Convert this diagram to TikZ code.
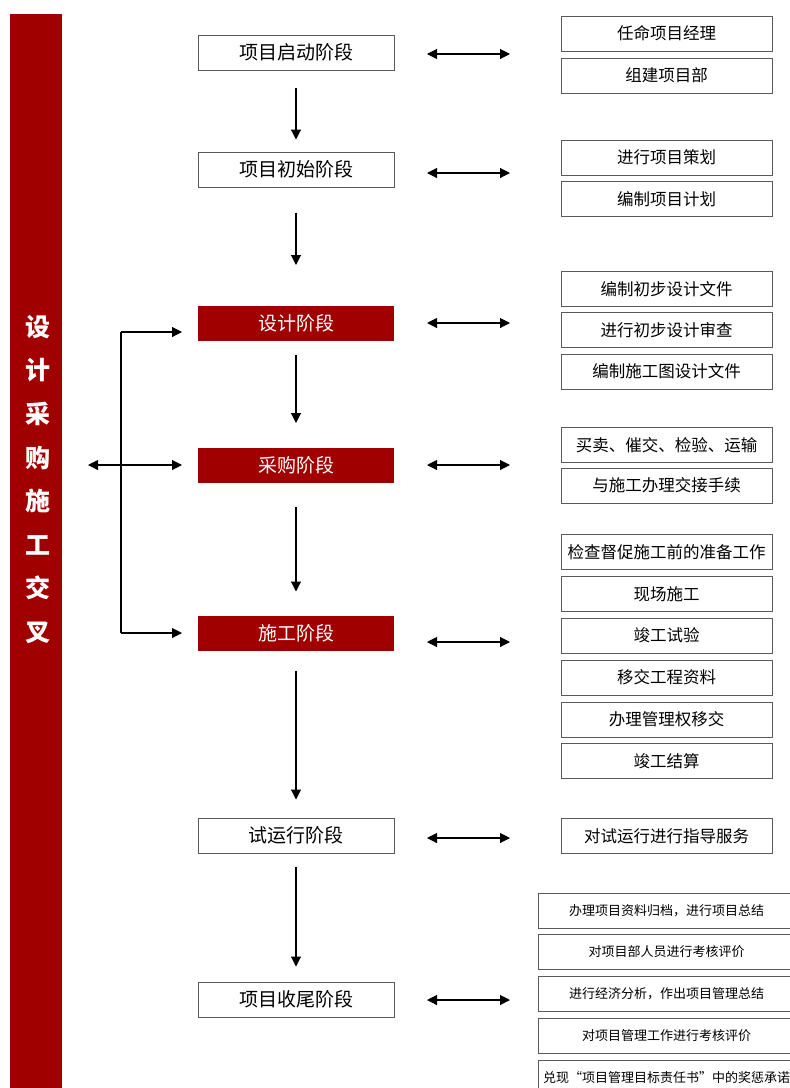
\documentclass[tikz,border=0pt]{standalone}
\usepackage{fontspec}
\setmainfont{Noto Sans CJK SC}
\usetikzlibrary{arrows.meta}
\definecolor{barred}{HTML}{A10000}
\definecolor{boxline}{HTML}{5A5A5A}
\tikzset{
  stagebox/.style={draw=boxline, line width=1pt, fill=white, minimum width=196pt, minimum height=35pt, inner sep=0pt, font=\fontsize{19}{22}\selectfont},
  redstage/.style={stagebox, draw=none, fill=barred, text=white},
  taskbox/.style={draw=boxline, line width=1pt, minimum width=211pt, minimum height=35pt, inner sep=0pt, font=\fontsize{16.5}{19}\selectfont},
  smallbox/.style={draw=boxline, line width=1pt, minimum width=257pt, minimum height=35pt, inner sep=0pt, font=\fontsize{13}{15}\selectfont},
  flow/.style={draw=black, line width=1.1pt, -{Triangle[length=10pt,width=10pt]}},
  both/.style={draw=black, line width=1.1pt, {Triangle[length=10pt,width=10pt]}-{Triangle[length=10pt,width=10pt]}},
}
\begin{document}
\begin{tikzpicture}[x=1pt,y=-1pt]
\useasboundingbox (0,0) rectangle (790,1088);
% left bar
\fill[barred] (10,14) rectangle (62,1088);
\node[text=white, font=\fontsize{25}{43.6}\selectfont\bfseries, align=center, inner sep=0pt] (bartext) at (38,479.5)
  {设\\计\\采\\购\\施\\工\\交\\叉};

% stages
\node[stagebox] (s1) at (296,52.5) {项目启动阶段};
\node[stagebox] (s2) at (296,169.5) {项目初始阶段};
\node[redstage] (s3) at (296,323) {设计阶段};
\node[redstage] (s4) at (296,465) {采购阶段};
\node[redstage] (s5) at (296,633.5) {施工阶段};
\node[stagebox] (s6) at (296,835.5) {试运行阶段};
\node[stagebox] (s7) at (296,999.5) {项目收尾阶段};

% tasks
\node[taskbox] (r1) at (666.5,33.5) {任命项目经理};
\node[taskbox] (r2) at (666.5,75.5) {组建项目部};
\node[taskbox] (r3) at (666.5,157.5) {进行项目策划};
\node[taskbox] (r4) at (666.5,199) {编制项目计划};
\node[taskbox] (r5) at (666.5,289) {编制初步设计文件};
\node[taskbox] (r6) at (666.5,330) {进行初步设计审查};
\node[taskbox] (r7) at (666.5,371.5) {编制施工图设计文件};
\node[taskbox] (r8) at (666.5,445) {买卖、催交、检验、运输};
\node[taskbox] (r9) at (666.5,485.5) {与施工办理交接手续};
\node[taskbox] (r10) at (666.5,552) {检查督促施工前的准备工作};
\node[taskbox] (r11) at (666.5,594) {现场施工};
\node[taskbox] (r12) at (666.5,635.5) {竣工试验};
\node[taskbox] (r13) at (666.5,677.5) {移交工程资料};
\node[taskbox] (r14) at (666.5,719.5) {办理管理权移交};
\node[taskbox] (r15) at (666.5,761) {竣工结算};
\node[taskbox] (r16) at (666.5,836) {对试运行进行指导服务};
\node[smallbox] (b1) at (666.5,910.5) {办理项目资料归档，进行项目总结};
\node[smallbox] (b2) at (666.5,951.5) {对项目部人员进行考核评价};
\node[smallbox] (b3) at (666.5,994) {进行经济分析，作出项目管理总结};
\node[smallbox] (b4) at (666.5,1035.5) {对项目管理工作进行考核评价};
\node[smallbox] (b5) at (666.5,1077.5) {兑现“项目管理目标责任书”中的奖惩承诺};

% downward flow
\draw[flow] ([yshift=-17pt]s1.south) -- ([yshift=12pt]s2.north);
\draw[flow] ([yshift=-25pt]s2.south) -- ([yshift=40pt]s3.north);
\draw[flow] ([yshift=-14pt]s3.south) -- ([yshift=24pt]s4.north);
\draw[flow] ([yshift=-24pt]s4.south) -- ([yshift=24pt]s5.north);
\draw[flow] ([yshift=-19pt]s5.south) -- ([yshift=18pt]s6.north);
\draw[flow] ([yshift=-13pt]s6.south) -- ([yshift=15pt]s7.north);

% double arrows to task groups
\coordinate (a1l) at (427,54);   \coordinate (a1r) at (510,54);
\coordinate (a2l) at (427,173);  \coordinate (a2r) at (510,173);
\coordinate (a3l) at (427,323);  \coordinate (a3r) at (510,323);
\coordinate (a4l) at (427,465);  \coordinate (a4r) at (510,465);
\coordinate (a5l) at (427,642);  \coordinate (a5r) at (510,642);
\coordinate (a6l) at (427,838);  \coordinate (a6r) at (510,838);
\coordinate (a7l) at (427,1000); \coordinate (a7r) at (510,1000);
\foreach \i in {1,...,7} { \draw[both] (a\i l) -- (a\i r); }

% left bracket
\coordinate (bt) at (121,332);
\coordinate (bb) at (121,633);
\coordinate (ml) at (88,465);
\draw[line width=1.1pt] (bt) -- (bb);
\draw[flow] (bt) -- (182,332);
\draw[flow] (bb) -- (182,633);
\draw[both] (ml) -- (182,465);
\end{tikzpicture}
\end{document}
